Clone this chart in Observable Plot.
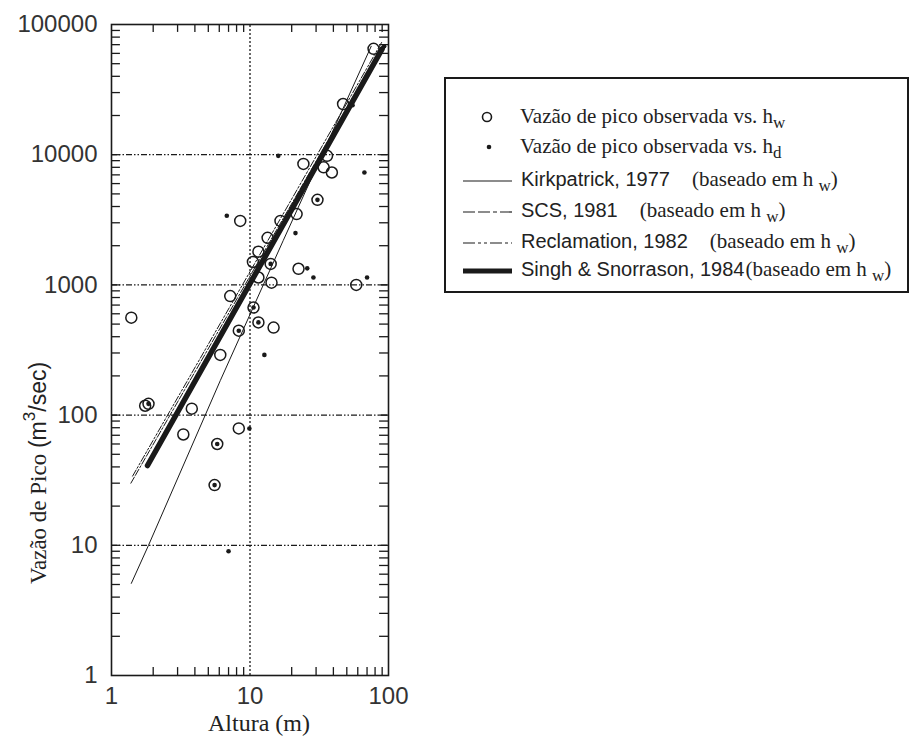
<!DOCTYPE html>
<html>
<head>
<meta charset="utf-8">
<script src="https://cdn.jsdelivr.net/npm/d3@7"></script>
<script src="https://cdn.jsdelivr.net/npm/@observablehq/plot@0.6"></script>
<style>
  body { margin: 0; background: #fff; }
  #wrap { position: relative; width: 915px; height: 738px; overflow: hidden; }
  #legend { position: absolute; left: 0; top: 0; }
</style>
</head>
<body>
<div id="wrap"></div>
<script>
// ---- Data ----
// observed peak discharge vs h_w (open circles)
const hwAltura = [78, 47, 36, 39, 34, 24.3, 30.7, 8.5, 21.7, 16.6, 13.4, 11.5, 10.5, 14.1, 22.4, 14.3, 11.5, 58.5, 7.2, 1.39, 10.6, 11.5, 14.8, 8.3, 6.1, 1.75, 1.85, 3.8, 3.3, 5.8, 5.55, 8.3];
const hwVazao  = [65000, 24500, 9800, 7300, 8000, 8500, 4500, 3100, 3500, 3100, 2300, 1800, 1500, 1450, 1330, 1040, 1140, 1000, 820, 560, 670, 515, 470, 445, 290, 118, 122, 112, 71, 60, 29, 79];
// observed peak discharge vs h_d (dots)
const hdAltura = [93, 55, 16, 67, 30.7, 6.8, 21.3, 14.1, 25.9, 28.7, 70, 10.6, 11.5, 8.3, 12.7, 1.85, 5.8, 5.55, 9.9, 7.0];
const hdVazao  = [68000, 24000, 9800, 7300, 4500, 3400, 2500, 1450, 1340, 1140, 1140, 670, 515, 445, 290, 122, 60, 29, 79, 9];
// regression lines
const kirkX = [1.39, 1.85, 6.1, 17.4, 75];
const kirkY = [5.1, 10, 184, 2200, 68000];
const scsX = [1.38, 88];
const scsY = [30, 65000];
const reclX = [1.42, 90];
const reclY = [34, 74000];
const singhX = [1.82, 90];
const singhY = [41, 65000];
// axis tick labels
const xTickLabels = [1, 10, 100];
const yTickLabels = [1, 10, 100, 1000, 10000, 100000];
const gridX = [10];
const gridY = [10, 100, 1000, 10000];
const legendLabels = [
  "Vazão de pico observada vs. h",
  "Vazão de pico observada vs. h",
  "Kirkpatrick, 1977",
  "SCS, 1981",
  "Reclamation, 1982",
  "Singh & Snorrason, 1984"
];
const legendSubs = ["w", "d", "w", "w", "w", "w"];

// ---- build tables ----
const hw = hwAltura.map((x, i) => ({x, y: hwVazao[i]}));
const hd = hdAltura.map((x, i) => ({x, y: hdVazao[i]}));
const toPts = (xs, ys) => xs.map((x, i) => ({x, y: ys[i]}));
const kirk = toPts(kirkX, kirkY), scs = toPts(scsX, scsY), recl = toPts(reclX, reclY), singh = toPts(singhX, singhY);

// minor tick positions
const xMinor = [];
for (const d of [1, 10]) for (let k = 2; k <= 9; k++) xMinor.push(d * k);
const yMinor = [];
for (const d of [1, 10, 100, 1000, 10000]) for (let k = 1; k <= 9; k++) if (!(d === 1 && k === 1)) yMinor.push(d * k);

const XT = 1.16; // ~9px in x log space
const YT = 1.15; // ~8px in y log space
const ink = "#1a1a1a";
const serif = "Liberation Serif, Times New Roman, serif";
const sans = "Liberation Sans, Arial, sans-serif";

const chart = Plot.plot({
  width: 915, height: 738,
  marginLeft: 111, marginRight: 527, marginTop: 24, marginBottom: 63,
  x: {type: "log", domain: [1, 100], axis: null},
  y: {type: "log", domain: [1, 100000], axis: null},
  style: {background: "transparent"},
  marks: [
    // grid
    Plot.ruleX(gridX, {x: d => d, y1: 1, y2: 100000, stroke: ink, strokeWidth: 1.3, strokeDasharray: "2,2"}),
    Plot.ruleY(gridY, {y: d => d, x1: 1, x2: 100, stroke: ink, strokeWidth: 1.3, strokeDasharray: "6,2,1.5,2,1.5,2"}),
    // inward ticks
    Plot.ruleX(xMinor, {x: d => d, y1: 1, y2: YT, stroke: ink, strokeWidth: 1.3}),
    Plot.ruleX(xMinor, {x: d => d, y1: 100000 / YT, y2: 100000, stroke: ink, strokeWidth: 1.3}),
    Plot.ruleY(yMinor, {y: d => d, x1: 1, x2: XT, stroke: ink, strokeWidth: 1.3}),
    Plot.ruleY(yMinor, {y: d => d, x1: 100 / XT, x2: 100, stroke: ink, strokeWidth: 1.3}),
    // regression lines
    Plot.line(kirk, {x: "x", y: "y", stroke: ink, strokeWidth: 1}),
    Plot.line(scs, {x: "x", y: "y", stroke: ink, strokeWidth: 1, strokeDasharray: "7,2,7,2,2,2"}),
    Plot.line(recl, {x: "x", y: "y", stroke: ink, strokeWidth: 1, strokeDasharray: "7,2,2,2,2,2"}),
    Plot.line(singh, {x: "x", y: "y", stroke: ink, strokeWidth: 5.5}),
    // observations
    Plot.dot(hw, {x: "x", y: "y", r: 5.5, stroke: ink, strokeWidth: 1.5, fill: "none"}),
    Plot.dot(hd, {x: "x", y: "y", r: 2.3, fill: ink, stroke: "none"}),
    // frame
    Plot.frame({stroke: ink, strokeWidth: 1.6}),
    // tick labels
    Plot.text(xTickLabels, {x: d => d, frameAnchor: "bottom", dy: 28, text: d => String(d), fontSize: 24, fill: "#333", fontFamily: sans}),
    Plot.text(yTickLabels, {y: d => d, frameAnchor: "left", dx: -14, textAnchor: "end", text: d => String(d), fontSize: 24, fill: "#333", fontFamily: sans})
  ]
});
document.getElementById("wrap").appendChild(chart);

// axis titles
const svg = d3.select(chart);
svg.append("text")
  .attr("x", 259).attr("y", 731)
  .attr("text-anchor", "middle")
  .attr("font-family", serif)
  .attr("font-size", 24).attr("fill", "#222")
  .text("Altura (m)");
const yt = svg.append("text")
  .attr("transform", "translate(46,473) rotate(-90)")
  .attr("text-anchor", "middle")
  .attr("font-size", 23).attr("fill", "#222");
yt.append("tspan").attr("font-family", serif).text("Vazão de Pico ");
yt.append("tspan").attr("font-family", sans).text("(m");
yt.append("tspan").attr("font-family", sans).attr("dy", -11).attr("font-size", 17).text("3");
yt.append("tspan").attr("font-family", sans).attr("dy", 11).text("/sec)");

// legend
const L = d3.select("#wrap").append("svg").attr("id", "legend")
  .attr("width", 915).attr("height", 738).style("pointer-events", "none");
L.append("rect").attr("x", 445).attr("y", 78).attr("width", 463).attr("height", 214)
  .attr("fill", "white").attr("stroke", ink).attr("stroke-width", 2);
const rowsY = [117, 147, 180, 211, 242, 270];
L.append("circle").attr("cx", 487).attr("cy", rowsY[0]).attr("r", 4.5).attr("fill", "none").attr("stroke", ink).attr("stroke-width", 1.6);
L.append("circle").attr("cx", 489).attr("cy", rowsY[1]).attr("r", 2.3).attr("fill", ink);
const lineStyles = [
  {w: 1.2, dash: null},
  {w: 1.2, dash: "12,3,12,3,4,3"},
  {w: 1.2, dash: "12,3,3,3,3,3"},
  {w: 5, dash: null}
];
lineStyles.forEach((s, i) => {
  L.append("line").attr("x1", 463).attr("x2", 512).attr("y1", rowsY[i + 2] + 1).attr("y2", rowsY[i + 2] + 1)
    .attr("stroke", ink).attr("stroke-width", s.w).attr("stroke-dasharray", s.dash);
});
legendLabels.forEach((lab, i) => {
  const y = rowsY[i] + 6;
  if (i < 2) {
    const t = L.append("text").attr("x", 520).attr("y", y).attr("font-family", serif).attr("font-size", 21).attr("fill", "#222");
    t.append("tspan").text(lab);
    t.append("tspan").attr("dy", 5).attr("font-size", 17).text(legendSubs[i]);
  } else {
    const t = L.append("text").attr("x", 521).attr("y", y).attr("font-size", 21).attr("fill", "#222");
    t.append("tspan").attr("font-family", sans).attr("font-size", 20).text(lab);
    t.append("tspan").attr("font-family", serif).attr("dx", i === 5 ? 1 : 22).text("(baseado em h ");
    t.append("tspan").attr("font-family", serif).attr("dy", 5).attr("font-size", 17).text(legendSubs[i]);
    t.append("tspan").attr("font-family", serif).attr("dy", -5).text(")");
  }
});
</script>
</body>
</html>
